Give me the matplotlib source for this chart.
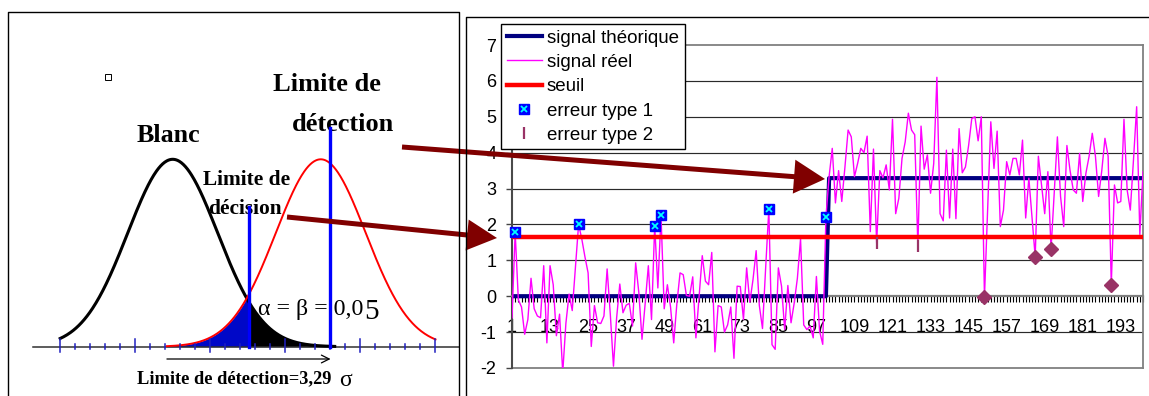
import numpy as np
import matplotlib
matplotlib.use('Agg')
import matplotlib.pyplot as plt
from matplotlib.patches import FancyArrow, Rectangle
from matplotlib.lines import Line2D
from matplotlib.legend_handler import HandlerTuple

plt.rcParams['axes.unicode_minus'] = False
plt.rcParams['font.family'] = ['Liberation Sans', 'DejaVu Sans']

# ---------------- data ----------------
x_index = list(range(1, 201))
signal_reel = [
    -0.6, 1.78, -0.1, -0.3, -1.06, -0.65, 0.5, -0.35, -0.55, -0.6,
    0.85, -1.3, 0.85, 0.32, -1.1, -0.5, -2.13, -0.75, 0.06, -0.4,
    0.8, 2.0, 1.6, 1.1, 0.65, -1.4, -0.26, -0.74, -0.76, -0.55,
    0.76, -0.5, -1.95, -0.6, 0.34, -0.46, -0.25, -0.2, -0.83, 0.93,
    0.1, -1.2, -0.2, 0.85, -0.65, 1.97, 0.23, 2.25, -0.35, 0.32,
    -0.3, -1.3, -0.2, 0.65, 0.6, 0.02, 0.0, 0.54, -1.16, 0.0,
    1.13, 0.42, 0.32, 1.22, -1.55, -0.26, -0.3, -1.0, -0.8, -0.3,
    -1.73, 0.28, 0.27, -0.65, 0.79, -0.17, 0.46, 1.27, -0.26, -0.9,
    0.8, 2.43, -1.35, -1.48, 0.79, 0.28, -0.93, 0.3, -0.74, -0.19,
    0.5, 1.6, -0.8, -0.93, -0.83, -1.16, 0.55, -0.97, -1.34, 2.2,
    3.33, 4.12, 2.6, 3.5, 2.64, 3.6, 4.63, 4.44, 3.33, 3.7,
    4.12, 4.0, 4.46, 1.8, 4.1, 1.47, 3.5, 3.3, 3.66, 2.96,
    4.93, 2.3, 2.73, 3.84, 4.3, 5.1, 4.63, 4.5, 1.4, 4.74,
    3.54, 3.94, 2.87, 3.7, 6.1, 2.3, 2.1, 4.07, 2.18, 4.1,
    2.16, 4.67, 3.44, 3.6, 4.2, 4.95, 5.0, 4.33, 5.0, -0.03,
    2.4, 4.86, 3.56, 4.6, 1.94, 2.4, 3.75, 3.38, 3.84, 3.84,
    3.38, 4.35, 2.18, 3.29, 2.2, 1.1, 3.9, 3.1, 2.3, 3.47,
    1.31, 2.87, 4.44, 2.78, 1.94, 4.2, 3.5, 2.96, 2.87, 3.98,
    2.64, 3.43, 3.9, 4.54, 3.9, 2.78, 3.5, 4.4, 3.9, 0.32,
    3.1, 2.6, 2.64, 4.93, 2.96, 2.4, 3.8, 5.28, 1.72, 3.47,
]
signal_theorique = [0.0] * 100 + [3.29] * 100
seuil_value = 1.645
type1_x = [2, 22, 46, 48, 82, 100]
type2_bar_x = [116, 129]
type2_diamond_x = [150, 166, 171, 190]
xtick_labels = list(range(1, 200, 12))
ytick_values = list(range(-2, 8))
legend_labels = ['signal théorique', 'signal réel', 'seuil', 'erreur type 1', 'erreur type 2']

# left diagram (units of sigma)
blank_mean = 0.0
detection_mean = 3.29
decision_limit = 1.70
detection_line = 3.5

W, H = 1149, 396
fig = plt.figure(figsize=(W / 100, H / 100), dpi=100)

# ---------------- right chart ----------------
ax = fig.add_axes([512 / W, 1 - 368 / H, 631 / W, 323 / H])
ax.set_xlim(1, 200)
ax.set_ylim(-2, 7)
for v in ytick_values:
    if v not in (0, -2, 7):
        ax.axhline(v, color='#2a2a2a', lw=0.85, zorder=1)
ax.axhline(-2, color='#808080', lw=1.3, zorder=1, clip_on=False)

ax.plot(x_index, signal_theorique, color='#000080', lw=3.0, zorder=3)
ax.plot(x_index, signal_reel, color='#FF00FF', lw=1.0, zorder=4)
ax.plot(x_index, [seuil_value] * len(x_index), color='#FF0000', lw=3.2, zorder=5)

t1y = [signal_reel[i - 1] for i in type1_x]
ax.plot(type1_x, t1y, 's', ms=6.5, mfc='#0000FF', mec='#0000FF', zorder=6, clip_on=False)
ax.plot(type1_x, t1y, 'x', ms=5, mec='#00FFFF', mew=1.3, zorder=7, clip_on=False)
t2by = [signal_reel[i - 1] for i in type2_bar_x]
ax.plot(type2_bar_x, t2by, '|', ms=9, mec='#993366', mew=1.6, zorder=6)
t2dy = [signal_reel[i - 1] for i in type2_diamond_x]
ax.plot(type2_diamond_x, t2dy, 'D', ms=7, mfc='#993366', mec='#993366', zorder=6, clip_on=False)

for side in ('top', 'right'):
    ax.spines[side].set_color('#808080')
    ax.spines[side].set_linewidth(1.3)
ax.spines['left'].set_color('#4a4a4a')
ax.spines['left'].set_linewidth(1.5)
ax.spines['bottom'].set_position(('data', 0))
ax.spines['bottom'].set_color('#808080')
ax.spines['bottom'].set_linewidth(1.6)

ax.set_xticks(x_index, minor=True)
ax.set_xticks(xtick_labels)
ax.set_xticklabels([str(v) for v in xtick_labels])
ax.tick_params(axis='x', which='both', direction='out', length=4.3, width=0.8,
               color='black', pad=12, labelsize=13)
ax.set_yticks(ytick_values)
ax.set_yticklabels([str(v) for v in ytick_values])
ax.tick_params(axis='y', direction='out', length=4.2, width=1.0, color='#444444',
               pad=7, labelsize=13)

handles = [
    Line2D([], [], color='#000080', lw=3.0),
    Line2D([], [], color='#FF00FF', lw=1.0),
    Line2D([], [], color='#FF0000', lw=3.2),
    (Line2D([], [], ls='none', marker='s', ms=6.5, mfc='#0000FF', mec='#0000FF'),
     Line2D([], [], ls='none', marker='x', ms=5, mec='#00FFFF', mew=1.3)),
    Line2D([], [], ls='none', marker='|', ms=9, mec='#993366', mew=1.6),
]
leg = fig.legend(handles, legend_labels, loc='upper left',
                 bbox_to_anchor=(501 / W, 1 - 24 / H), bbox_transform=fig.transFigure,
                 borderaxespad=0, frameon=True, fancybox=False, framealpha=1,
                 edgecolor='black', fontsize=13.5, borderpad=0.3, labelspacing=0.38,
                 handlelength=1.9, handletextpad=0.25, numpoints=1,
                 handler_map={tuple: HandlerTuple(ndivide=1, pad=0)})
leg.get_frame().set_linewidth(1.0)

# ---------------- overlay (pixel coordinates) ----------------
ov = fig.add_axes([0, 0, 1, 1], zorder=10)
ov.set_xlim(0, W)
ov.set_ylim(H, 0)
ov.axis('off')
ov.patch.set_alpha(0)

# ---------------- left diagram ----------------
ax_l = fig.add_axes([8 / W, 0, 451 / W, 384 / H])
ax_l.set_xlim((8 - 172.7) / 45, (459 - 172.7) / 45)
ax_l.set_ylim((346.7 - 396) / 187.4, (346.7 - 12) / 187.4)
ax_l.axis('off')

s_b = np.linspace(-2.5, 3.6, 400)
s_d = np.linspace(-0.13, 5.84, 400)
g_b = np.exp(-(s_b - blank_mean) ** 2 / 2)
g_d = np.exp(-(s_d - detection_mean) ** 2 / 2)
s_f1 = np.linspace(-0.13, decision_limit, 200)
ax_l.fill_between(s_f1, 0, np.exp(-(s_f1 - detection_mean) ** 2 / 2), color='#0008C8', lw=0, zorder=2)
s_f2 = np.linspace(decision_limit, 3.6, 200)
ax_l.fill_between(s_f2, 0, np.exp(-(s_f2 - blank_mean) ** 2 / 2), color='black', lw=0, zorder=2)
ax_l.plot([(32.7 - 172.7) / 45, 7], [0, 0], color='#303030', lw=1.1, zorder=2)
ax_l.plot(s_b, g_b, color='black', lw=2.2, zorder=3)
ax_l.plot(s_d, g_d, color='red', lw=1.4, zorder=3)
px = 1 / 187.4
for k in range(26):
    sk = -2.5 + k / 3
    if k % 5 == 0:
        ax_l.plot([sk, sk], [-5 * px, 7.4 * px], color='#2020C0', lw=1.1, zorder=3)
    else:
        ax_l.plot([sk, sk], [-2.7 * px, 2.4 * px], color='#2020C0', lw=1.1, zorder=3)
ax_l.annotate('', xy=(3.57, -12.3 * px), xytext=(-0.19, -12.3 * px),
              arrowprops=dict(arrowstyle='->', color='black', lw=0.9, mutation_scale=14))

serif = ['Liberation Serif', 'DejaVu Serif']
T = ov.transData
ax_l.text(136.7, 142.3, 'Blanc', transform=T, family=serif, weight='bold', fontsize=18.7,
          ha='left', va='baseline', zorder=3)
ax_l.text(273.3, 91, 'Limite de', transform=T, family=serif, weight='bold', fontsize=19,
          ha='left', va='baseline', zorder=3)
ax_l.text(291.7, 130.7, 'détection', transform=T, family=serif, weight='bold', fontsize=19,
          ha='left', va='baseline', zorder=3)
ax_l.text(202.7, 185, 'Limite de', transform=T, family=serif, weight='bold', fontsize=15.4,
          ha='left', va='baseline', zorder=3)
ax_l.text(208.3, 214.3, 'décision', transform=T, family=serif, weight='bold', fontsize=15.4,
          ha='left', va='baseline', zorder=3)
ax_l.text(258.3, 315, 'α = β = 0,0', transform=T, family=serif, fontsize=17.3,
          ha='left', va='baseline', zorder=3)
ax_l.text(364.5, 319.3, '5', transform=T, family=serif, fontsize=21,
          ha='left', va='baseline', zorder=3)
ax_l.text(137.3, 383.3, 'Limite de détection=3,29', transform=T, family=serif, weight='bold',
          fontsize=13.2, ha='left', va='baseline', zorder=3)
ax_l.text(339, 386, 'σ', transform=T, family=serif, fontsize=17, ha='left', va='baseline', zorder=3)

ax_l.plot([decision_limit, decision_limit], [0, (346.7 - 206.7) * px], color='#0000FF', lw=2.4, zorder=4)
ax_l.plot([detection_line, detection_line], [0, (346.7 - 127.7) * px], color='#0000FF', lw=2.4, zorder=4)

# borders and small square
ov.plot([8, 8, 459, 459], [400, 12, 12, 400], color='black', lw=1.0)
ov.plot([466, 466, 1152], [400, 17, 17], color='black', lw=1.0)
ov.add_patch(Rectangle((105, 74), 5.5, 5.5, fill=False, ec='black', lw=0.7))

# arrows
ov.add_patch(FancyArrow(402, 147, 825 - 402, 179 - 147, width=5, head_width=34, head_length=31,
                        length_includes_head=True, color='#800000', lw=0))
ov.add_patch(FancyArrow(287, 217, 497 - 287, 238 - 217, width=5, head_width=31, head_length=30,
                        length_includes_head=True, color='#800000', lw=0))

fig.savefig('out.png', dpi=100)
